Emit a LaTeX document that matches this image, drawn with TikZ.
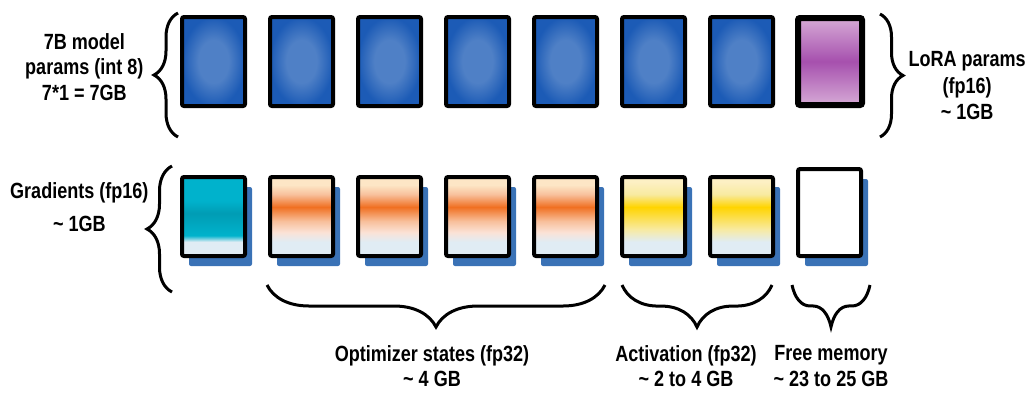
\documentclass[tikz,border=0pt]{standalone}
\usepackage{fontspec}
\setmainfont{Liberation Sans}
\newfontfamily\lblfont{Liberation Sans}[FakeStretch=0.82]
\usetikzlibrary{positioning, calc, shadows, decorations.pathreplacing}
\definecolor{cblue}{HTML}{1C5BB6}
\definecolor{cbluec}{HTML}{4F80C6}
\definecolor{cshadow}{HTML}{3A72B6}
\definecolor{clight}{HTML}{E0ECF4}
\definecolor{ccyan}{HTML}{00B2CC}
\definecolor{ccyandk}{HTML}{009CB4}
\definecolor{corange}{HTML}{F07022}
\definecolor{cpeach}{HTML}{F8C09C}
\definecolor{cpeachlt}{HTML}{FBE2D6}
\definecolor{ccream}{HTML}{FDE6C6}
\definecolor{cyellow}{HTML}{FFD400}
\definecolor{cyellowlt}{HTML}{F8EAA0}
\definecolor{cyellcream}{HTML}{FDF0C4}
\definecolor{cpurple}{HTML}{A650AE}
\definecolor{cpurplelt}{HTML}{D6AAD6}

% box fillings (the node is mapped onto 25bp..75bp)
\pgfdeclareradialshading{paramshade}{\pgfpoint{0bp}{0bp}}{color(0bp)=(cbluec); color(12bp)=(cbluec); color(25bp)=(cblue); color(50bp)=(cblue)}
\pgfdeclareverticalshading{lorashade}{100bp}{color(0bp)=(cpurplelt); color(25bp)=(cpurplelt); color(50bp)=(cpurple); color(75bp)=(cpurplelt); color(100bp)=(cpurplelt)}
\pgfdeclareverticalshading{gradshade}{100bp}{color(0bp)=(clight); color(25bp)=(clight); color(34bp)=(clight); color(38bp)=(ccyan); color(52bp)=(ccyandk); color(60bp)=(ccyan); color(75bp)=(ccyan); color(100bp)=(ccyan)}
\pgfdeclareverticalshading{optshade}{100bp}{color(0bp)=(clight); color(25bp)=(clight); color(34bp)=(clight); color(40bp)=(cpeachlt); color(47bp)=(cpeach); color(56bp)=(corange); color(64bp)=(cpeach); color(70bp)=(ccream); color(75bp)=(ccream); color(100bp)=(ccream)}
\pgfdeclareverticalshading{actshade}{100bp}{color(0bp)=(clight); color(25bp)=(clight); color(34bp)=(clight); color(42bp)=(cyellowlt); color(56bp)=(cyellow); color(64bp)=(cyellowlt); color(72bp)=(cyellcream); color(75bp)=(cyellcream); color(100bp)=(cyellcream)}

\begin{document}
\begin{tikzpicture}[
  x=1pt, y=1pt,
  font=\lblfont\bfseries\fontsize{22}{25.5}\selectfont,
  mem/.style={draw=black, line width=4pt, rounded corners=2pt, inner sep=0pt, outer sep=0pt,
              minimum width=63pt, minimum height=79pt},
  param/.style={mem, minimum height=89pt, shade, shading=paramshade},
  lora/.style={param, line width=6pt, minimum width=64pt, minimum height=87pt, shading=lorashade},
  shadowed/.style={drop shadow={shadow xshift=7pt, shadow yshift=-10pt, fill=cshadow, opacity=1}},
  state/.style={mem, shadowed, shade},
  curly/.style={decorate, decoration={brace, amplitude=#1}, line width=3pt},
  curly/.default=24pt,
  lbl/.style={align=center, inner sep=0pt},
  ]
\useasboundingbox (0,0) rectangle (1029,-392);

% top row: model weights
\node[param] (p1) at (213.5,-61.5) {};
\node[param, right=25pt of p1] (p2) {};
\node[param, right=25pt of p2] (p3) {};
\node[param, right=25pt of p3] (p4) {};
\node[param, right=25pt of p4] (p5) {};
\node[param, right=25pt of p5] (p6) {};
\node[param, right=25pt of p6] (p7) {};
\node[lora, right=25pt of p7] (lr) {};

% bottom row: training memory
\node[state, shading=gradshade] (g1) at (213.5,-216.5) {};
\node[state, shading=optshade, right=25pt of g1] (o1) {};
\node[state, shading=optshade, right=25pt of o1] (o2) {};
\node[state, shading=optshade, right=25pt of o2] (o3) {};
\node[state, shading=optshade, right=25pt of o3] (o4) {};
\node[state, shading=actshade, right=25pt of o4] (a1) {};
\node[state, shading=actshade, right=25pt of a1] (a2) {};
\node[mem, shadowed, fill=white, minimum height=87pt, right=25pt of a2.south east, anchor=south west] (fr) {};

% braces and labels
\draw[curly] ($(p1.south west)+(-4,-31)$) -- node[lbl, left=33pt, yshift=8pt]
  {7B model\\params (int 8)\\7*1 = 7GB} ($(p1.north west)+(-4,4)$);
\draw[curly=23pt] ($(lr.north east)+(18,4)$) -- node[lbl, right=27pt, yshift=-10.5pt,
  font=\lblfont\bfseries\fontsize{22}{26.5}\selectfont]
  {LoRA params\\(fp16)\\\textasciitilde{} 1GB} ($(lr.south east)+(18,-32)$);
\draw[curly=25pt] ($(g1.south west)+(-10,-36)$) -- node[lbl, left=22pt, yshift=22pt,
  font=\lblfont\bfseries\fontsize{22}{33}\selectfont]
  {Gradients (fp16)\\\textasciitilde{} 1GB} ($(g1.north west)+(-10,11)$);

\draw[curly=42pt] ($(o4.south east)+(8,-29)$) -- node[lbl, below=59pt, xshift=-4pt]
  {Optimizer states (fp32)\\\textasciitilde{} 4 GB} ($(o1.south west)+(-3,-29)$);
\draw[curly=36pt, decoration={transform={yscale=1.17}}] ($(a2.south east)+(-1,-29)$) --
  node[lbl, below=59pt, xshift=-11pt] {Activation (fp32)\\\textasciitilde{} 2 to 4 GB} ($(a1.south west)+(0,-29)$);
\draw[curly=18pt, decoration={transform={yscale=2.33}}] ($(fr.south east)+(9,-29)$) --
  node[lbl, below=59pt] {Free memory\\\textasciitilde{} 23 to 25 GB} ($(fr.south west)+(-6,-29)$);
\end{tikzpicture}
\end{document}
